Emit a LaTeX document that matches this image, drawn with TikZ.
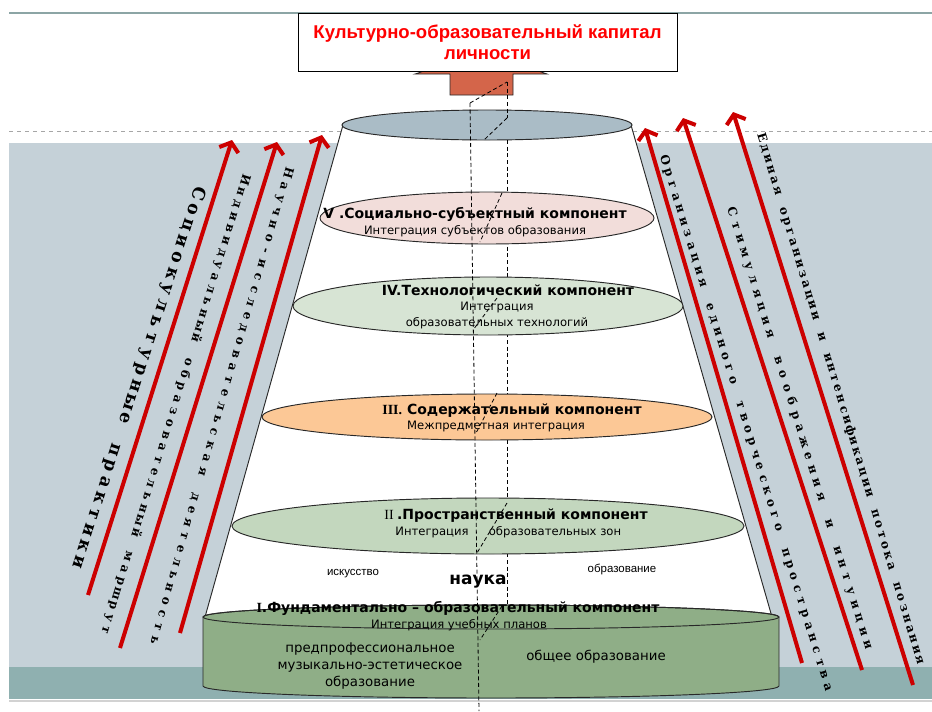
\documentclass[tikz,border=0pt]{standalone}
\usepackage{fontspec}
\setmainfont{DejaVu Sans}
\newfontfamily\arialf{Liberation Sans}
\newfontfamily\timesf{Liberation Serif}
\newfontfamily\lettf{DejaVu Serif}
\usetikzlibrary{arrows.meta}

\definecolor{bgblue}{RGB}{197,209,216}
\definecolor{bgteal}{RGB}{143,176,176}
\definecolor{topline}{RGB}{140,165,165}
\definecolor{topell}{RGB}{170,188,198}
\definecolor{ellV}{RGB}{242,221,218}
\definecolor{ellIV}{RGB}{215,228,212}
\definecolor{ellIII}{RGB}{252,200,150}
\definecolor{ellII}{RGB}{195,215,190}
\definecolor{cylg}{RGB}{143,174,135}
\definecolor{coral}{RGB}{212,101,74}
\definecolor{darr}{RGB}{204,0,0}
\definecolor{edgec}{RGB}{40,40,40}
\definecolor{titred}{RGB}{255,0,0}

\ExplSyntaxOn
\tl_new:N \l_sp_x_tl
\tl_new:N \l_sp_y_tl
\tl_new:N \l_sp_a_tl
\int_new:N \l_sp_n_int
\int_new:N \l_sp_i_int
\str_new:N \l_sp_s_str
\NewDocumentCommand \spacedtext { m m m m m m }
  {
    \str_set:Nn \l_sp_s_str { #6 }
    \int_set:Nn \l_sp_n_int { \str_count:N \l_sp_s_str - 1 }
    \tl_set:Nx \l_sp_a_tl { \fp_eval:n { atand( -((#4)-(#2)), (#3)-(#1) ) } }
    \int_zero:N \l_sp_i_int
    \str_map_inline:Nn \l_sp_s_str
      {
        \tl_set:Nx \l_sp_x_tl { \fp_eval:n { (#1) + ((#3)-(#1)) * \l_sp_i_int / \l_sp_n_int } }
        \tl_set:Nx \l_sp_y_tl { \fp_eval:n { (#2) + ((#4)-(#2)) * \l_sp_i_int / \l_sp_n_int } }
        \spchar { \l_sp_x_tl } { \l_sp_y_tl } { \l_sp_a_tl } { #5 } { ##1 }
        \int_incr:N \l_sp_i_int
      }
  }
\ExplSyntaxOff
\newcommand\spchar[5]{\node[letter,font=#4,rotate=#3] at (#1,#2) {#5};}
\newcommand\lettbig{\lettf\bfseries\fontsize{13}{14}\selectfont}
\newcommand\lettsmall{\lettf\bfseries\fontsize{9}{10}\selectfont}

\begin{document}
\begin{tikzpicture}[x=0.75pt,y=-0.75pt,
  letter/.style={inner sep=0pt, anchor=mid},
  ttl/.style={font=\bfseries\fontsize{10.5}{12}\selectfont, anchor=base, inner sep=0pt},
  sub/.style={font=\fontsize{8.7}{10}\selectfont, anchor=base, inner sep=0pt},
  lbl/.style={font=\arialf\fontsize{8.6}{10}\selectfont, anchor=base, inner sep=0pt},
  cyltxt/.style={font=\fontsize{10}{13}\selectfont, inner sep=0pt, align=center},
  redarr/.style={draw=darr, line width=3pt, -{Straight Barb[length=6pt,width=15pt]}},
  rib/.style={draw=black, line width=0.6pt, dash pattern=on 3pt off 2pt},
  edgeline/.style={draw=edgec, line width=0.7pt}
]
\useasboundingbox (0,0) rectangle (932,711);
\fill[white] (0,0) rectangle (932,711);

% background
\draw[topline, line width=1pt] (9,13) -- (932,13);
\draw[gray!70, dashed, line width=0.5pt] (9,131) -- (932,131);
\fill[bgblue] (9,143) rectangle (932,667);
\fill[bgteal] (9,667) rectangle (932,699);
\draw[gray!35, line width=0.8pt] (9,701) -- (932,701);

% cone
\filldraw[fill=white, edgeline] (343,125) -- (205,617) -- (772,617) -- (631,125) -- cycle;
\filldraw[fill=topell, edgeline] (487,125) ellipse [x radius=145, y radius=15];

% red arrows with spaced texts
\coordinate (l1s) at (88,595);  \coordinate (l1e) at (232,140);
\coordinate (l2s) at (120,648); \coordinate (l2e) at (277,142);
\coordinate (l3s) at (180,633); \coordinate (l3e) at (322,135);
\coordinate (r1s) at (802,663); \coordinate (r1e) at (645,128);
\coordinate (r2s) at (862,670); \coordinate (r2e) at (683,118);
\coordinate (r3s) at (913,685); \coordinate (r3e) at (733,112);
\draw[redarr] (l1s) -- (l1e);
\draw[redarr] (l2s) -- (l2e);
\draw[redarr] (l3s) -- (l3e);
\draw[redarr] (r1s) -- (r1e);
\draw[redarr] (r2s) -- (r2e);
\draw[redarr] (r3s) -- (r3e);

\spacedtext{197}{193}{78}{562}{\lettbig}{Социокультурные практики}
\spacedtext{245}{180}{106}{630}{\lettsmall}{Индивидуальный образовательный маршрут}
\spacedtext{288}{173}{155}{640}{\lettsmall}{Научно-исследовательская деятельность}
\spacedtext{665}{160}{828}{687}{\lettsmall}{Организация единого творческого пространства}
\spacedtext{732}{212}{868}{645}{\lettsmall}{Стимуляция воображения и интуиции}
\spacedtext{762}{138}{920}{660}{\lettsmall}{Единая организации и интенсификации потока познания}

% block arrow and title box
\filldraw[fill=coral, draw=edgec, line width=0.6pt]
  (450,95) -- (450,74) -- (415,74) -- (482,52) -- (547,74) -- (513,74) -- (513,95) -- cycle;
\node[draw=black, fill=white, line width=0.7pt, minimum width=284.25pt, minimum height=43.5pt,
      inner sep=0pt, align=center, text=titred,
      font=\arialf\bfseries\fontsize{13.9}{15.75}\selectfont] (cap) at (487.5,42)
      {Культурно-образовательный капитал\\личности};

% ribbon (back part)
\draw[rib] (507,82) -- (507,118);
\draw[rib] (507,140) -- (507,605);

% ellipses
\filldraw[fill=ellV, edgeline] (487,218) ellipse [x radius=167, y radius=26];
\filldraw[fill=ellIV, edgeline] (488,306) ellipse [x radius=195, y radius=29];
\filldraw[fill=ellIII, edgeline] (487,417) ellipse [x radius=225, y radius=23];
\filldraw[fill=ellII, edgeline] (488,526) ellipse [x radius=256, y radius=28];

% cylinder
\filldraw[fill=cylg, edgeline] (203,617) -- (203,686)
  arc[start angle=180, end angle=0, x radius=288, y radius=12] -- (779,617)
  arc[start angle=0, end angle=-180, x radius=288, y radius=12] -- cycle;
\draw[edgeline] (491,617) ellipse [x radius=288, y radius=12];

% texts
\node[ttl] (t5) at (475,218) {V .Социально-субъектный компонент};
\node[sub] (s5) at (475,234) {Интеграция субъектов образования};
\node[ttl] (t4) at (508,295) {IV.Технологический компонент};
\node[sub] (s4a) at (497,310) {Интеграция};
\node[sub] (s4b) at (497,326) {образовательных технологий};
\node[ttl] (t3) at (512,414) {{\timesf III.} Содержательный компонент};
\node[sub] (s3) at (496,429) {Межпредметная интеграция};
\node[ttl] (t2) at (516,519) {{\timesf\mdseries II }.Пространственный компонент};
\node[sub] (s2a) at (432,535) {Интеграция};
\node[sub] (s2b) at (555,535) {образовательных зон};
\node[lbl] (art) at (353,575) {искусство};
\node[font=\bfseries\fontsize{12.75}{14}\selectfont, anchor=base, inner sep=0pt] (sci) at (478,584) {наука};
\node[lbl] (edu) at (622,572) {образование};
\node[ttl] (t1) at (458,612) {{\timesf I}.Фундаментально – образовательный компонент};
\node[sub] (s1) at (459,628) {Интеграция учебных планов};
\node[cyltxt] (pre) at (370,666) {предпрофессиональное\\музыкально-эстетическое\\образование};
\node[cyltxt] (gen) at (596,657) {общее образование};

% ribbon (front part)
\draw[rib] (470,103) -- (479,711);
\draw[rib] (470,103) -- (507,82);
\draw[rib] (507,118) -- (484,140);
\draw[rib] (502,193) -- (480,242);
\draw[rib] (497,298) -- (473,330);
\draw[rib] (497,393) -- (476,433);
\draw[rib] (507,503) -- (477,553);
\draw[rib] (502,606) -- (480,640);
\end{tikzpicture}
\end{document}
